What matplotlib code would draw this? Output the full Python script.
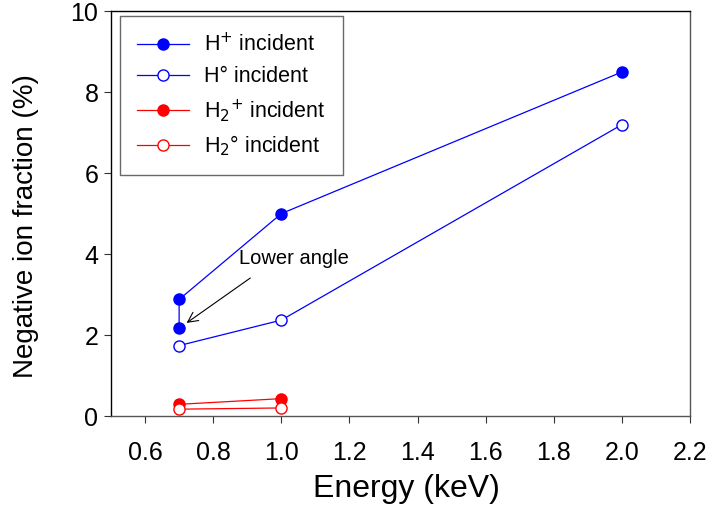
import matplotlib
matplotlib.use("Agg")
import matplotlib.pyplot as plt

plt.rcParams['font.family'] = ['Liberation Sans', 'DejaVu Sans']

# Negative ion fraction (%) versus incident energy (keV)
h_plus_energy = [0.7, 0.7, 1.0, 2.0]
h_plus_frac = [2.18, 2.88, 5.0, 8.5]

h_zero_energy = [0.7, 1.0, 2.0]
h_zero_frac = [1.74, 2.37, 7.2]

h2_plus_energy = [0.7, 1.0]
h2_plus_frac = [0.29, 0.43]

h2_zero_energy = [0.7, 1.0]
h2_zero_frac = [0.17, 0.2]

x_ticks = [0.6, 0.8, 1.0, 1.2, 1.4, 1.6, 1.8, 2.0, 2.2]
y_ticks = [0, 2, 4, 6, 8, 10]

fig = plt.figure(figsize=(7.16, 5.08), dpi=100)
ax = fig.add_axes([0.155, 0.181, 0.809, 0.797])

lw = 0.9
ms = 8
ax.plot(h_plus_energy, h_plus_frac, '-o', color='#0000ff', lw=lw, ms=ms,
        mfc='#0000ff', mec='#0000ff', mew=1, label='H$^{+}$ incident')
ax.plot(h_zero_energy, h_zero_frac, '-o', color='#0000ff', lw=lw, ms=ms,
        mfc='white', mec='#0000ff', mew=1, label='H° incident')
ax.plot(h2_plus_energy, h2_plus_frac, '-o', color='#ff0000', lw=lw, ms=ms,
        mfc='#ff0000', mec='#ff0000', mew=1, label='H$_2$$^{+}$ incident')
ax.plot(h2_zero_energy, h2_zero_frac, '-o', color='#ff0000', lw=lw, ms=ms,
        mfc='white', mec='#ff0000', mew=1, label='H$_2$° incident')

# Label and pointer for the lower-angle H+ measurement
ax.text(0.877, 3.75, 'Lower angle', fontsize=14.5, ha='left', va='baseline')
ax.annotate('', xy=(0.722, 2.30), xytext=(0.909, 3.41),
            arrowprops=dict(arrowstyle='->', color='black', lw=0.8,
                            mutation_scale=18, shrinkA=0, shrinkB=0))

ax.set_xlim(0.5, 2.2)
ax.set_ylim(0, 10)
ax.set_xticks(x_ticks)
ax.set_xticklabels([f'{v:.1f}' for v in x_ticks])
ax.set_yticks(y_ticks)
ax.set_yticklabels([str(v) for v in y_ticks])

ax.tick_params(axis='both', direction='out', length=5, width=0.8,
               labelsize=18, color='#333333')
ax.tick_params(axis='x', pad=13)
ax.tick_params(axis='y', pad=4)

for side in ['left', 'top']:
    ax.spines[side].set_color('black')
for side in ['right', 'bottom']:
    ax.spines[side].set_color('#555555')
for s in ax.spines.values():
    s.set_linewidth(1.0)

ax.set_xlabel('Energy (keV)', fontsize=23)
ax.xaxis.set_label_coords(0.51, -0.142)
ax.set_ylabel('Negative ion fraction (%)', fontsize=20)
ax.yaxis.set_label_coords(-0.125, 0.47)

leg = ax.legend(loc='upper left', bbox_to_anchor=(0.016, 0.988), fontsize=15.5,
                frameon=True, fancybox=False, edgecolor='#444444',
                handlelength=2.4, handletextpad=0.7, labelspacing=0.45,
                borderpad=0.8, borderaxespad=0)
leg.get_frame().set_linewidth(1.0)

fig.savefig('out.png', dpi=100)
